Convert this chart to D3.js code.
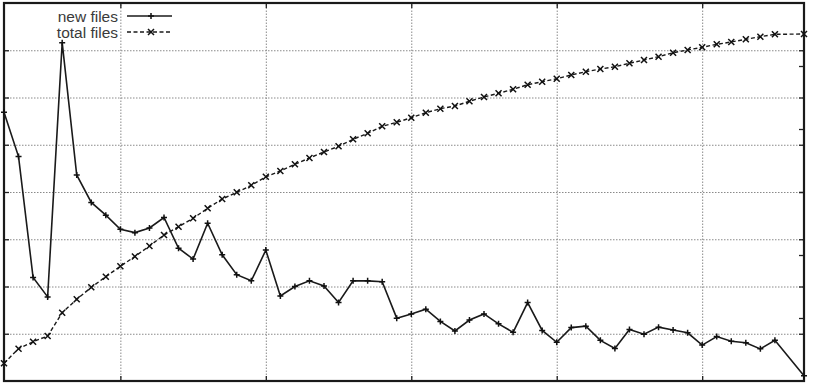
<!DOCTYPE html>
<html>
<head>
<meta charset="utf-8">
<script src="https://cdn.jsdelivr.net/npm/d3@7/dist/d3.min.js"></script>
<style>
  html, body { margin: 0; padding: 0; background: #fff; }
  svg { display: block; }
  .domain { display: none; }
</style>
</head>
<body>
<svg id="chart" width="815" height="386"></svg>
<script>
// ---- data ----
const weeks = [0,1,2,3,4,5,6,7,8,9,10,11,12,13,14,15,16,17,18,19,20,21,22,23,24,25,26,27,28,29,
  30,31,32,33,34,35,36,37,38,39,40,41,42,43,44,45,46,47,48,49,50,51,52,53,55];
const newFiles = [56.9,47.5,21.9,17.8,71.6,43.6,37.8,35.1,32.1,31.4,32.4,34.6,28.1,25.8,33.4,26.7,
  22.5,21.2,27.7,18.0,20.0,21.2,20.1,16.6,21.2,21.2,21.0,13.3,14.2,15.2,12.6,10.6,12.9,14.2,12.1,
  10.3,16.6,10.7,8.2,11.3,11.6,8.6,6.9,10.9,9.9,11.4,10.8,10.2,7.6,9.4,8.4,8.1,6.8,8.6,1.1];
const totalFiles = [28.1,51.3,62.4,71.4,108.4,129.7,148.7,165.6,182.1,197.6,214.3,231.7,244.9,258.3,
  274.1,288.9,299.5,310.6,324.1,333.3,344.0,354.0,363.5,372.5,383.7,393.2,404.3,410.6,417.9,425.9,
  432.2,436.5,444.0,450.8,456.7,463.0,470.3,475.1,479.8,485.7,491.0,495.2,498.9,504.3,509.5,514.8,
  521.1,525.4,529.7,534.4,538.1,542.4,546.5,550.3,550.8];
const xTicks = [8,18,28,38,48];
const yTicks = [10,20,30,40,50,60,70];
const y2Ticks = [100,200,300,400,500];
const seriesNames = ["new files","total files"];

// ---- layout ----
const L = 4, R = 804, T = 3, B = 381;
const svg = d3.select("#chart");
const x = d3.scaleLinear().domain([0,55]).range([L,R]);
const y = d3.scaleLinear().domain([0,80]).range([B,T]);
const y2 = d3.scaleLinear().domain([0,600]).range([B,T]);

// grid
const gridStyle = g => g.selectAll(".tick line")
  .attr("stroke","#8a8a8a").attr("stroke-width",1).attr("stroke-dasharray","1.5,1.5");
svg.append("g").attr("transform",`translate(0,${B})`)
  .call(d3.axisBottom(x).tickValues(xTicks).tickSize(-(B-T)).tickFormat(""))
  .call(gridStyle);
svg.append("g").attr("transform",`translate(${L},0)`)
  .call(d3.axisLeft(y).tickValues(yTicks).tickSize(-(R-L)).tickFormat(""))
  .call(gridStyle);

// tick marks (inward)
const tickStyle = g => g.selectAll(".tick line").attr("stroke","#222").attr("stroke-width",1.3);
svg.append("g").attr("transform",`translate(0,${B})`)
  .call(d3.axisBottom(x).tickValues(xTicks).tickSize(-5).tickFormat("")).call(tickStyle);
svg.append("g").attr("transform",`translate(0,${T})`)
  .call(d3.axisTop(x).tickValues(xTicks).tickSize(-5).tickFormat("")).call(tickStyle);
svg.append("g").attr("transform",`translate(${L},0)`)
  .call(d3.axisLeft(y).tickValues(yTicks).tickSize(-5).tickFormat("")).call(tickStyle);
svg.append("g").attr("transform",`translate(${R},0)`)
  .call(d3.axisRight(y).tickValues(yTicks).tickSize(-5).tickFormat("")).call(tickStyle);
svg.append("g").attr("transform",`translate(${R},0)`)
  .call(d3.axisRight(y2).tickValues(y2Ticks).tickSize(-5).tickFormat("")).call(tickStyle);

// frame
svg.append("rect").attr("x",L).attr("y",T).attr("width",R-L).attr("height",B-T)
  .attr("fill","none").attr("stroke","#1a1a1a").attr("stroke-width",2.2);

// series
const lineNew = d3.line().x((d,i)=>x(weeks[i])).y(d=>y(d));
const lineTot = d3.line().x((d,i)=>x(weeks[i])).y(d=>y2(d));
svg.append("path").datum(newFiles).attr("d",lineNew)
  .attr("fill","none").attr("stroke","#1a1a1a").attr("stroke-width",1.6);
svg.append("path").datum(totalFiles).attr("d",lineTot)
  .attr("fill","none").attr("stroke","#1a1a1a").attr("stroke-width",1.4).attr("stroke-dasharray","4,2.5");

const plus = (g, cx, cy, s) => g.append("path")
  .attr("d",`M${cx-s},${cy}H${cx+s}M${cx},${cy-s}V${cy+s}`)
  .attr("stroke","#111").attr("stroke-width",1.5);
const cross = (g, cx, cy, s) => g.append("path")
  .attr("d",`M${cx-s},${cy-s}L${cx+s},${cy+s}M${cx-s},${cy+s}L${cx+s},${cy-s}`)
  .attr("stroke","#111").attr("stroke-width",1.5);

const gm = svg.append("g");
newFiles.forEach((d,i)=>plus(gm, x(weeks[i]), y(d), 3));
totalFiles.forEach((d,i)=>cross(gm, x(weeks[i]), y2(d), 3));

// legend
const lg = svg.append("g");
const legY = [16, 32];
seriesNames.forEach((n,i)=>{
  lg.append("text").attr("x",118).attr("y",legY[i]+5.5).attr("text-anchor","end")
    .attr("font-family","Liberation Sans, Arial, sans-serif").attr("font-size",15.5)
    .attr("fill","#3a3a3a").text(n);
  lg.append("line").attr("x1",127).attr("x2",172).attr("y1",legY[i]).attr("y2",legY[i])
    .attr("stroke","#1a1a1a").attr("stroke-width", i===0?1.6:1.4)
    .attr("stroke-dasharray", i===0?null:"4,2.5");
  if (i===0) plus(lg,151,legY[i],3); else cross(lg,151,legY[i],3);
});
</script>
</body>
</html>
